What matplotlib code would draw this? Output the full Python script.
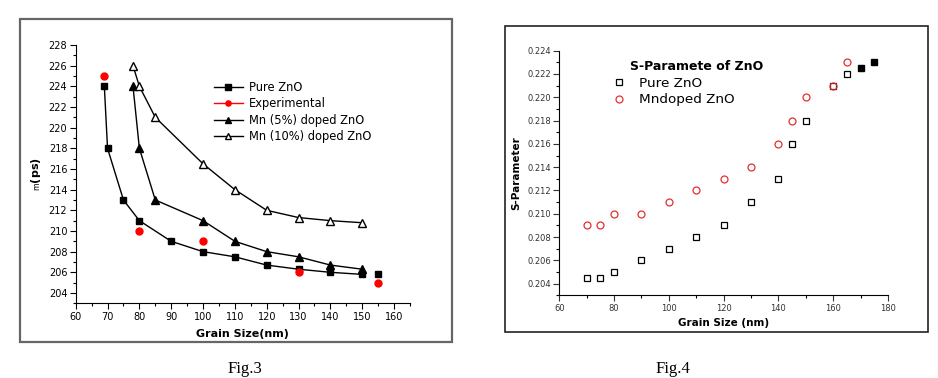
import matplotlib
matplotlib.use("Agg")
import matplotlib.pyplot as plt
from matplotlib.patches import Rectangle
from matplotlib.lines import Line2D
from matplotlib.ticker import MultipleLocator

# ---------------- Fig.3 data ----------------
pure_x = [69, 70, 75, 80, 90, 100, 110, 120, 130, 140, 150]
pure_y = [224, 218, 213, 211, 209, 208, 207.5, 206.7, 206.3, 206.0, 205.8]
pure_extra_x = [155]
pure_extra_y = [205.8]
exp_x = [69, 80, 100, 130, 155]
exp_y = [225, 210, 209, 206, 205]
mn5_x = [78, 80, 85, 100, 110, 120, 130, 140, 150]
mn5_y = [224, 218, 213, 211, 209, 208, 207.5, 206.7, 206.3]
mn10_x = [78, 80, 85, 100, 110, 120, 130, 140, 150]
mn10_y = [226, 224, 221, 216.5, 214, 212, 211.3, 211, 210.8]
fig3_labels = ["Pure ZnO", "Experimental", "Mn (5%) doped ZnO", "Mn (10%) doped ZnO"]

# ---------------- Fig.4 data ----------------
s_pure_x = [70, 75, 80, 90, 100, 110, 120, 130, 140, 145, 150, 160, 165]
s_pure_y = [0.2045, 0.2045, 0.205, 0.206, 0.207, 0.208, 0.209, 0.211, 0.213, 0.216, 0.218, 0.221, 0.222]
s_pure_filled_x = [170, 175]
s_pure_filled_y = [0.2225, 0.223]
s_mn_x = [70, 75, 80, 90, 100, 110, 120, 130, 140, 145, 150, 160, 165]
s_mn_y = [0.209, 0.209, 0.210, 0.210, 0.211, 0.212, 0.213, 0.214, 0.216, 0.218, 0.220, 0.221, 0.223]
fig4_labels = ["Pure ZnO", "Mndoped ZnO"]
fig4_title = "S-Paramete of ZnO"

plt.rcParams['font.family'] = ['DejaVu Sans']

fig = plt.figure(figsize=(9.38, 3.78), dpi=100)

# outer frames
fig.patches.append(Rectangle((0.0213, 0.0952), 0.4606, 0.8545, transform=fig.transFigure,
                             fill=False, edgecolor='#666666', linewidth=1.6, zorder=0))
fig.patches.append(Rectangle((0.5384, 0.1217), 0.451, 0.8095, transform=fig.transFigure,
                             fill=False, edgecolor='#222222', linewidth=1.2, zorder=0))

# ---------------- Left axes ----------------
ax1 = fig.add_axes([0.0807, 0.1976, 0.3564, 0.6833])
l_pure, = ax1.plot(pure_x, pure_y, '-s', color='black', markersize=5, linewidth=1)
ax1.plot(pure_extra_x, pure_extra_y, 's', color='black', markersize=5)
ax1.plot(exp_x, exp_y, 'o', color='red', markersize=5)
l_mn5, = ax1.plot(mn5_x, mn5_y, '-^', color='black', markersize=6, linewidth=1)
l_mn10, = ax1.plot(mn10_x, mn10_y, '-^', color='black', markerfacecolor='white', markersize=6,
                   linewidth=1)
# legend key for the experimental points is drawn with a red line, as in the original
exp_key = Line2D([], [], color='red', marker='o', markersize=5, linewidth=1)

ax1.set_xlim(60, 165)
ax1.set_ylim(203, 228)
ax1.xaxis.set_major_locator(MultipleLocator(10))
ax1.xaxis.set_minor_locator(MultipleLocator(5))
ax1.set_yticks(range(204, 229, 2))
ax1.yaxis.set_minor_locator(MultipleLocator(1))
for s in ['top', 'right']:
    ax1.spines[s].set_visible(False)
ax1.tick_params(which='major', direction='out', length=4, width=0.8, labelsize=7, pad=2)
ax1.tick_params(which='minor', direction='out', length=2, width=0.8)
ax1.set_xlabel("Grain Size(nm)", fontsize=8, fontweight='bold', labelpad=5)
ax1.set_ylabel(r"$_{\mathrm{m}}$(ps)", fontsize=8, fontweight='bold', labelpad=4)

leg1 = ax1.legend([l_pure, exp_key, l_mn5, l_mn10], fig3_labels, loc='upper left',
                  bbox_to_anchor=(0.40, 0.88), frameon=False,
                  fontsize=8.3, handlelength=2.5, handletextpad=0.5, labelspacing=0.3,
                  borderaxespad=0, markerscale=0.75)

# ---------------- Right axes ----------------
ax2 = fig.add_axes([0.5963, 0.2188, 0.3504, 0.6471])
ax2.plot(s_pure_x, s_pure_y, 's', markerfacecolor='none', markeredgecolor='black',
         markersize=4.5, markeredgewidth=0.9, label=fig4_labels[0])
ax2.plot(s_pure_filled_x, s_pure_filled_y, 's', color='black', markersize=4.5)
ax2.plot(s_mn_x, s_mn_y, 'o', markerfacecolor='none', markeredgecolor='#e03030',
         markersize=5, markeredgewidth=0.9, label=fig4_labels[1])
ax2.set_xlim(60, 180)
ax2.set_ylim(0.203, 0.224)
ax2.xaxis.set_major_locator(MultipleLocator(20))
ax2.xaxis.set_minor_locator(MultipleLocator(10))
ax2.set_yticks([0.204 + 0.002 * i for i in range(11)])
ax2.yaxis.set_minor_locator(MultipleLocator(0.001))
ax2.yaxis.set_major_formatter(matplotlib.ticker.FormatStrFormatter('%.3f'))
for s in ['top', 'right']:
    ax2.spines[s].set_visible(False)
ax2.tick_params(which='major', direction='out', length=4, width=0.8, labelsize=6, pad=2,
                colors='#333333')
ax2.tick_params(which='minor', direction='out', length=2, width=0.8)
ax2.set_xlabel("Grain Size (nm)", fontsize=7.5, fontweight='bold', labelpad=4)
ax2.set_ylabel("S-Parameter", fontsize=7.5, fontweight='bold', labelpad=4)

h2, l2 = ax2.get_legend_handles_labels()
leg2 = ax2.legend(h2, l2, loc='upper left', bbox_to_anchor=(0.145, 0.915), frameon=False,
                  fontsize=9.7, handlelength=1.0, handletextpad=1.0,
                  labelspacing=0.25, borderaxespad=0)
ax2.text(0.216, 0.96, fig4_title, transform=ax2.transAxes, fontsize=9, fontweight='bold',
         ha='left', va='top')

# captions
fig.text(0.261, 0.003, "Fig.3", family='Liberation Serif', fontsize=12, ha='center', va='bottom')
fig.text(0.717, 0.003, "Fig.4", family='Liberation Serif', fontsize=12, ha='center', va='bottom')

fig.savefig("out.png", dpi=100)
